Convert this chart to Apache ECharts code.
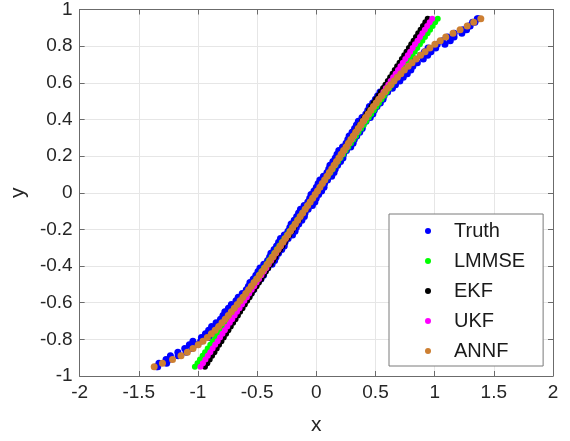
<!DOCTYPE html>
<html>
<head>
<meta charset="utf-8">
<script src="https://cdn.jsdelivr.net/npm/echarts@6/dist/echarts.min.js"></script>
<style>
html,body{margin:0;padding:0;background:#fff;}
#chart{width:570px;height:441px;}
</style>
</head>
<body>
<div id="chart"></div>
<script>
// shared y levels (measurement axis values)
const yLevels = [-0.95,-0.93,-0.91,-0.89,-0.87,-0.85,-0.83,-0.81,-0.79,-0.77,-0.75,-0.73,-0.71,-0.69,-0.67,-0.65,-0.63,-0.61,-0.59,-0.57,-0.55,-0.53,-0.51,-0.49,-0.47,-0.45,-0.43,-0.41,-0.39,-0.37,-0.35,-0.33,-0.31,-0.29,-0.27,-0.25,-0.23,-0.21,-0.19,-0.17,-0.15,-0.13,-0.11,-0.09,-0.07,-0.05,-0.03,-0.01,
0.01,0.03,0.05,0.07,0.09,0.11,0.13,0.15,0.17,0.19,0.21,0.23,0.25,0.27,0.29,0.31,0.33,0.35,0.37,0.39,0.41,0.43,0.45,0.47,0.49,0.51,0.53,0.55,0.57,0.59,0.61,0.63,0.65,0.67,0.69,0.71,0.73,0.75,0.77,0.79,0.81,0.83,0.85,0.87,0.89,0.91,0.93,0.95];

// Truth samples (two noisy draws per y level)
const truthX = [-1.34,-1.33,-1.245,-1.233,-1.10,-1.112,-1.018,-1.043,-0.906,-0.937,-0.855,-0.885,-0.777,-0.81,-0.734,-0.773,-0.678,-0.718,-0.624,-0.66,-0.556,-0.592,-0.519,-0.561,-0.468,-0.511,-0.438,-0.476,-0.374,-0.412,-0.34,-0.384,-0.292,-0.336,-0.264,-0.303,-0.201,-0.24,-0.169,-0.213,-0.122,-0.166,-0.095,-0.134,-0.033,-0.072,-0.001,-0.045,
0.045,0.0,0.07,0.03,0.13,0.09,0.16,0.115,0.205,0.16,0.23,0.19,0.291,0.251,0.321,0.277,0.367,0.323,0.394,0.355,0.456,0.418,0.49,0.448,0.541,0.499,0.573,0.538,0.643,0.609,0.706,0.67,0.769,0.734,0.816,0.789,0.904,0.881,0.969,0.944,1.087,1.067,1.164,1.165,1.27,1.29,1.32,1.37];

const truthX2 = [-1.35,-1.265,-1.27,-1.168,-1.17,-1.052,-1.073,-0.978,-0.971,-0.872,-0.91,-0.82,-0.847,-0.75,-0.789,-0.708,-0.743,-0.653,-0.679,-0.595,-0.626,-0.532,-0.574,-0.496,-0.533,-0.446,-0.493,-0.411,-0.444,-0.352,-0.395,-0.319,-0.357,-0.271,-0.319,-0.238,-0.271,-0.18,-0.224,-0.148,-0.187,-0.101,-0.15,-0.069,-0.103,-0.012,-0.056,0.02,
-0.02,0.065,0.015,0.095,0.06,0.15,0.105,0.18,0.14,0.225,0.175,0.255,0.221,0.311,0.266,0.342,0.302,0.388,0.339,0.42,0.386,0.478,0.435,0.513,0.476,0.564,0.518,0.603,0.573,0.669,0.651,0.735,0.704,0.799,0.761,0.854,0.834,0.941,0.914,1.009,1.022,1.132,1.109,1.23,1.24,1.30,1.34,1.36];

const lmmseX = [-1.026,-1.004,-0.983,-0.961,-0.94,-0.918,-0.896,-0.875,-0.853,-0.832,-0.81,-0.788,-0.767,-0.745,-0.724,-0.702,-0.68,-0.659,-0.637,-0.616,-0.594,-0.572,-0.551,-0.529,-0.508,-0.486,-0.464,-0.443,-0.421,-0.4,-0.378,-0.356,-0.335,-0.313,-0.292,-0.27,-0.248,-0.227,-0.205,-0.184,-0.162,-0.14,-0.119,-0.097,-0.076,-0.054,-0.032,-0.011,
0.011,0.032,0.054,0.076,0.097,0.119,0.14,0.162,0.184,0.205,0.227,0.248,0.27,0.292,0.313,0.335,0.356,0.378,0.4,0.421,0.443,0.464,0.486,0.508,0.529,0.551,0.572,0.594,0.616,0.637,0.659,0.68,0.702,0.724,0.745,0.767,0.788,0.81,0.832,0.853,0.875,0.896,0.918,0.94,0.961,0.983,1.004,1.026];

const ekfX = [-0.941,-0.921,-0.901,-0.881,-0.861,-0.842,-0.822,-0.802,-0.782,-0.762,-0.743,-0.723,-0.703,-0.683,-0.663,-0.644,-0.624,-0.604,-0.584,-0.564,-0.545,-0.525,-0.505,-0.485,-0.465,-0.446,-0.426,-0.406,-0.386,-0.366,-0.347,-0.327,-0.307,-0.287,-0.267,-0.248,-0.228,-0.208,-0.188,-0.168,-0.149,-0.129,-0.109,-0.089,-0.069,-0.05,-0.03,-0.01,
0.01,0.03,0.05,0.069,0.089,0.109,0.129,0.149,0.168,0.188,0.208,0.228,0.248,0.267,0.287,0.307,0.327,0.347,0.366,0.386,0.406,0.426,0.446,0.465,0.485,0.505,0.525,0.545,0.564,0.584,0.604,0.624,0.644,0.663,0.683,0.703,0.723,0.743,0.762,0.782,0.802,0.822,0.842,0.861,0.881,0.901,0.921,0.941];

const ukfX = [-0.979,-0.958,-0.937,-0.917,-0.896,-0.876,-0.855,-0.834,-0.814,-0.793,-0.773,-0.752,-0.731,-0.711,-0.69,-0.67,-0.649,-0.628,-0.608,-0.587,-0.567,-0.546,-0.525,-0.505,-0.484,-0.464,-0.443,-0.422,-0.402,-0.381,-0.361,-0.34,-0.319,-0.299,-0.278,-0.258,-0.237,-0.216,-0.196,-0.175,-0.155,-0.134,-0.113,-0.093,-0.072,-0.052,-0.031,-0.01,
0.01,0.031,0.052,0.072,0.093,0.113,0.134,0.155,0.175,0.196,0.216,0.237,0.258,0.278,0.299,0.319,0.34,0.361,0.381,0.402,0.422,0.443,0.464,0.484,0.505,0.525,0.546,0.567,0.587,0.608,0.628,0.649,0.67,0.69,0.711,0.731,0.752,0.773,0.793,0.814,0.834,0.855,0.876,0.896,0.917,0.937,0.958,0.979];

const annfX = [-1.37,-1.30,-1.215,-1.143,-1.09,-1.042,-0.998,-0.958,-0.921,-0.887,-0.855,-0.825,-0.797,-0.77,-0.744,-0.718,-0.693,-0.668,-0.644,-0.62,-0.596,-0.572,-0.549,-0.526,-0.503,-0.481,-0.458,-0.436,-0.414,-0.392,-0.37,-0.349,-0.327,-0.306,-0.284,-0.263,-0.241,-0.22,-0.199,-0.178,-0.157,-0.136,-0.115,-0.094,-0.073,-0.052,-0.031,-0.01,
0.01,0.03,0.05,0.07,0.09,0.11,0.13,0.15,0.17,0.19,0.21,0.23,0.251,0.271,0.291,0.312,0.332,0.353,0.374,0.395,0.416,0.438,0.46,0.483,0.506,0.529,0.553,0.578,0.603,0.629,0.656,0.685,0.714,0.744,0.776,0.809,0.844,0.881,0.919,0.959,1.002,1.047,1.094,1.155,1.215,1.275,1.33,1.39];

const seriesNames = ['Truth','LMMSE','EKF','UKF','ANNF'];
const seriesColors = ['#0000ff','#00ff00','#000000','#ff00ff','#cd7f32'];
const seriesSizes = [7,6,6,6,7];

const xTicks = {min:-2, max:2, step:0.5};
const yTicks = {min:-1, max:1, step:0.2};

const FONT = 'Liberation Sans, Arial, Helvetica, sans-serif';
const AXC = '#6b6b6b';

const pairs = xs => xs.map((x, i) => [x, yLevels[i]]);
const seriesData = [
  pairs(truthX).concat(pairs(truthX2)),
  pairs(lmmseX),
  pairs(ekfX),
  pairs(ukfX),
  pairs(annfX)
];

const chart = echarts.init(document.getElementById('chart'), null, {renderer:'canvas'});

const series = seriesNames.map((name, k) => ({
  name: name,
  type: 'scatter',
  symbol: 'circle',
  symbolSize: seriesSizes[k],
  itemStyle: {color: seriesColors[k], opacity: 1},
  data: seriesData[k],
  xAxisIndex: 0,
  yAxisIndex: 0,
  animation: false,
  emphasis: {disabled: true}
}));

const fmt = v => String(Math.round(v*10)/10);

chart.setOption({
  animation: false,
  backgroundColor: '#ffffff',
  grid: {left: 75, right: 17, top: 8, bottom: 64, containLabel: false},
  xAxis: [{
    type: 'value', position: 'bottom',
    min: xTicks.min, max: xTicks.max, interval: xTicks.step,
    name: 'x', nameLocation: 'middle', nameGap: 39,
    nameTextStyle: {fontFamily: FONT, fontSize: 21, color: '#262626'},
    axisLine: {show: true, onZero: false, lineStyle: {color: AXC, width: 1}},
    axisTick: {show: true, inside: true, length: 5, lineStyle: {color: AXC}},
    axisLabel: {fontFamily: FONT, fontSize: 19, color: '#262626', margin: 7, formatter: fmt},
    splitLine: {show: true, lineStyle: {color: '#e6e6e6', width: 1}}
  },{
    type: 'value', position: 'top',
    min: xTicks.min, max: xTicks.max, interval: xTicks.step,
    axisLine: {show: true, onZero: false, lineStyle: {color: AXC, width: 1}},
    axisTick: {show: true, inside: true, length: 5, lineStyle: {color: AXC}},
    axisLabel: {show: false},
    splitLine: {show: false}
  }],
  yAxis: [{
    type: 'value', position: 'left',
    min: yTicks.min, max: yTicks.max, interval: yTicks.step,
    name: 'y', nameLocation: 'middle', nameGap: 39, nameRotate: 90,
    nameTextStyle: {fontFamily: FONT, fontSize: 21, color: '#262626'},
    axisLine: {show: true, onZero: false, lineStyle: {color: AXC, width: 1}},
    axisTick: {show: true, inside: true, length: 5, lineStyle: {color: AXC}},
    axisLabel: {fontFamily: FONT, fontSize: 19, color: '#262626', margin: 7, formatter: fmt},
    splitLine: {show: true, lineStyle: {color: '#e6e6e6', width: 1}}
  },{
    type: 'value', position: 'right',
    min: yTicks.min, max: yTicks.max, interval: yTicks.step,
    axisLine: {show: true, onZero: false, lineStyle: {color: AXC, width: 1}},
    axisTick: {show: true, inside: true, length: 5, lineStyle: {color: AXC}},
    axisLabel: {show: false},
    splitLine: {show: false}
  }],
  legend: {
    show: true,
    orient: 'vertical',
    left: 389, top: 214,
    padding: [7, 18, 5, 36],
    itemGap: 10,
    itemWidth: 42, itemHeight: 6,
    icon: 'circle',
    backgroundColor: '#ffffff',
    borderColor: '#7a7a7a', borderWidth: 1,
    textStyle: {fontFamily: FONT, fontSize: 20, color: '#1a1a1a', lineHeight: 20},
    data: seriesNames,
    selectedMode: false
  },
  series: series
});
</script>
</body>
</html>
